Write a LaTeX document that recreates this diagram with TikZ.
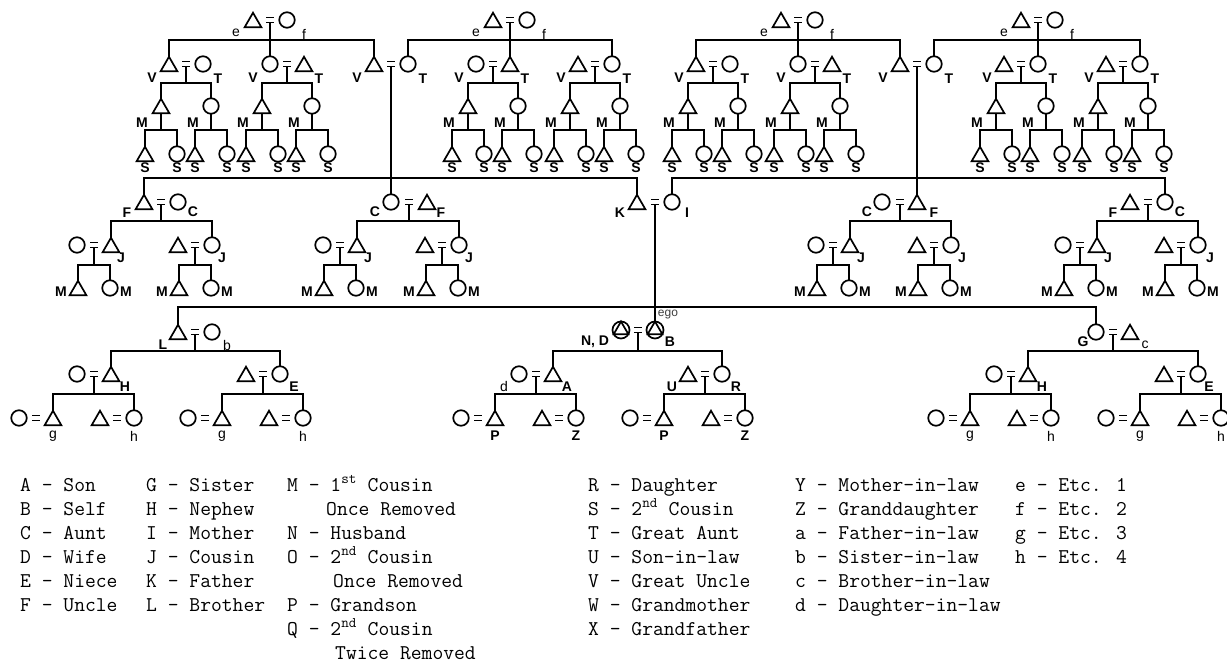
\documentclass[tikz,border=0pt]{standalone}
\usepackage{fontspec}
\newfontfamily\labf{Liberation Sans}
\usetikzlibrary{shapes.geometric}
\newcounter{lbc}
\tikzset{
 shp/.style={draw=black, line width=1.7pt, inner sep=0pt, outer sep=0pt},
 tri/.style={shp, regular polygon, regular polygon sides=3, minimum size=19.4pt},
 cir/.style={shp, circle, minimum size=15.5pt},
 ln/.style={line width=1.6pt},
 eqln/.style={line width=1.5pt},
 lab/.style={font=\labf\bfseries\fontsize{14}{14}\selectfont, inner sep=0pt},
 low/.style={font=\labf\fontsize{14}{14}\selectfont, inner sep=0pt},
 egol/.style={font=\labf\fontsize{12}{12}\selectfont, inner sep=0pt, text=black!75},
 leg/.style={font=\ttfamily\fontsize{21}{21}\selectfont, inner sep=0pt, anchor=base west},
}
\newcommand\mtri[3]{\node[tri] (#1) at ({#2},{#3+2.45}) {};}
\newcommand\mcir[3]{\node[cir] (#1) at ({#2},{#3}) {};}
\newcommand\mego[3]{\node[cir, minimum size=17pt] (#1) at ({#2},{#3}) {};\node[tri, minimum size=17pt] (#1in) at ({#2},{#3}) {};}
\newcommand\meq[3]{\draw[eqln] ({#2-4},{#3-2.6}) -- ({#2+4},{#3-2.6}) ({#2-4},{#3+2.6}) -- ({#2+4},{#3+2.6});\coordinate (#1) at ({#2},{#3+2.6});}
\newcommand\kids[3]{\foreach \kk in {#3}{\draw[ln] (#1) -- (#1 |- #2) -- (\kk.north |- #2) -- (\kk.north);}}
\newcommand\lbl[4][lab]{\stepcounter{lbc}\node[#1] (lb\arabic{lbc}) at ({#2},{#3}) {#4};}
\newcommand\lgd[3]{\stepcounter{lbc}\node[leg] (lg\arabic{lbc}) at ({#1},{#2}) {#3};}
\begin{document}
\begin{tikzpicture}[x=1pt,y=-1pt]
\path[fill=white,use as bounding box] (0,0) rectangle (1227,671);
\coordinate (LA) at (0,40);
\coordinate (LB) at (0,83);
\coordinate (LC) at (0,130);
\coordinate (LD) at (0,178);
\coordinate (LE) at (0,221);
\coordinate (LF) at (0,265);
\coordinate (LG) at (0,307);
\coordinate (LH) at (0,351);
\coordinate (LI) at (0,394);
% great-great-grandparents
\mtri{c1t}{253}{20}\meq{c1}{270}{20}\mcir{c1c}{287}{20}
\mtri{c2t}{493}{20}\meq{c2}{510}{20}\mcir{c2c}{527}{20}
\mtri{c3t}{781}{20}\meq{c3}{798}{20}\mcir{c3c}{815}{20}
\mtri{c4t}{1021}{20}\meq{c4}{1038}{20}\mcir{c4c}{1055}{20}
\lbl[low]{236}{33}{e}\lbl[low]{304}{34}{f}
\lbl[low]{476}{33}{e}\lbl[low]{544}{34}{f}
\lbl[low]{764}{33}{e}\lbl[low]{832}{34}{f}
\lbl[low]{1004}{33}{e}\lbl[low]{1072}{34}{f}
% great uncles / aunts
\mtri{a1t}{169}{64}\meq{a1}{186}{64}\mcir{a1c}{203}{64}
\mcir{a2c}{270}{64}\meq{a2}{287}{64}\mtri{a2t}{304}{64}
\mtri{a3t}{374}{64}\meq{a3}{391}{64}\mcir{a3c}{408}{64}
\mcir{b2c}{476}{64}\meq{b2}{493}{64}\mtri{b2t}{510}{64}
\mtri{b3t}{578}{64}\meq{b3}{595}{64}\mcir{b3c}{612}{64}
\mtri{d1t}{696}{64}\meq{d1}{713}{64}\mcir{d1c}{730}{64}
\mcir{d2c}{798}{64}\meq{d2}{815}{64}\mtri{d2t}{832}{64}
\mtri{d3t}{900}{64}\meq{d3}{917}{64}\mcir{d3c}{934}{64}
\mtri{e2t}{1004}{64}\meq{e2}{1021}{64}\mcir{e2c}{1038}{64}
\mtri{e3t}{1106}{64}\meq{e3}{1123}{64}\mcir{e3c}{1140}{64}
\foreach \px/\qx in {152/218,253/319,357/423,459/525,561/627,679/745,781/847,883/949,987/1053,1089/1155}{\lbl{\px}{78}{V}\lbl{\qx}{79}{T}}
\kids{c1}{LA}{a1t,a2c,a3t}
\kids{c2}{LA}{a3c,b2t,b3c}
\kids{c3}{LA}{d1t,d2c,d3t}
\kids{c4}{LA}{d3c,e2c,e3c}
% first cousins once removed, second cousins
\foreach \n/\x in {a1/186,a2/287,b2/493,b3/595,d1/713,d2/815,e2/1021,e3/1123}{
 \mtri{\n m}{\x-25}{106}\mcir{\n f}{\x+25}{106}
 \kids{\n}{LB}{\n m,\n f}
 \mtri{\n mm}{\x-41}{154}\mcir{\n mf}{\x-9}{154}
 \mtri{\n fm}{\x+9}{154}\mcir{\n ff}{\x+41}{154}
 \kids{\n m.south}{LC}{\n mm,\n mf}
 \kids{\n f.south}{LC}{\n fm,\n ff}
 \lbl{\x-44}{123}{M}\lbl{\x+7}{123}{M}
 \lbl{\x-41}{168}{S}\lbl{\x-9}{168}{S}\lbl{\x+9}{168}{S}\lbl{\x+41}{168}{S}
}
% parents generation
\mtri{Fl}{144}{202}\meq{Fe}{161}{202}\mcir{Fc}{178}{202}
\mcir{Cl}{391}{202}\meq{Ce}{409}{202}\mtri{Ct}{427}{202}
\mtri{K}{637}{202}\meq{KI}{655}{202}\mcir{I}{672}{202}
\mcir{Cr}{882}{202}\meq{Cre}{900}{202}\mtri{Crt}{917}{202}
\mtri{Frt}{1130}{202}\meq{Fre}{1148}{202}\mcir{Frc}{1165}{202}
\kids{a3}{LD}{Fl,Cl,K}
\kids{d3}{LD}{I,Crt,Frc}
\lbl{127}{213}{F}\lbl{193}{212}{C}
\lbl{375}{212}{C}\lbl{441}{213}{F}
\lbl{620}{213}{K}\lbl{687}{213}{I}
\lbl{867}{212}{C}\lbl{934}{213}{F}
\lbl{1113}{213}{F}\lbl{1180}{212}{C}
% cousins
\mcir{j1w}{77}{245}\meq{j1}{94}{245}\mtri{j1t}{111}{245}
\mtri{j2h}{178}{245}\meq{j2}{195}{245}\mcir{j2c}{212}{245}
\mcir{j3w}{323}{245}\meq{j3}{340}{245}\mtri{j3t}{357}{245}
\mtri{j4h}{425}{245}\meq{j4}{442}{245}\mcir{j4c}{459}{245}
\mcir{j5w}{816}{245}\meq{j5}{833}{245}\mtri{j5t}{850}{245}
\mtri{j6h}{917}{245}\meq{j6}{934}{245}\mcir{j6c}{951}{245}
\mcir{j7w}{1063}{245}\meq{j7}{1080}{245}\mtri{j7t}{1097}{245}
\mtri{j8h}{1164}{245}\meq{j8}{1181}{245}\mcir{j8c}{1198}{245}
\kids{Fe}{LE}{j1t,j2c}
\kids{Ce}{LE}{j3t,j4c}
\kids{Cre}{LE}{j5t,j6c}
\kids{Fre}{LE}{j7t,j8c}
\foreach \px in {121,222,368,469,861,962,1108,1210}{\lbl{\px}{258}{J}}
\foreach \n/\x in {j1/94,j2/195,j3/340,j4/442,j5/833,j6/934,j7/1080,j8/1181}{
 \mtri{\n x}{\x-16}{288}\mcir{\n y}{\x+16}{288}
 \kids{\n}{LF}{\n x,\n y}
 \lbl{\x-33}{292}{M}\lbl{\x+32}{292}{M}
}
% ego generation
\mtri{Lt}{178}{332}\meq{Le}{195}{332}\mcir{Lc}{212}{332}
\mego{egl}{621}{330}\meq{ege}{638}{330}\mego{egr}{655}{330}
\mcir{Gc}{1096}{332}\meq{Ge}{1113}{332}\mtri{Gt}{1130}{332}
\kids{KI}{LG}{Lt,egr,Gc}
\lbl{163}{345}{L}\lbl[low]{227}{345}{b}
\lbl{595}{342}{N, D}\lbl{670}{342}{B}\lbl[egol]{668}{315}{ego}
\lbl{1083}{342}{G}\lbl[low]{1145}{345}{c}
% children
\mcir{n1w}{77}{374}\meq{n1}{94}{374}\mtri{n1t}{111}{374}
\mtri{n2h}{246}{374}\meq{n2}{263}{374}\mcir{n2c}{280}{374}
\mcir{s1w}{519}{374}\meq{s1}{536}{374}\mtri{s1t}{553}{374}
\mtri{s2h}{688}{374}\meq{s2}{705}{374}\mcir{s2c}{722}{374}
\mcir{n3w}{994}{374}\meq{n3}{1011}{374}\mtri{n3t}{1028}{374}
\mtri{n4h}{1164}{374}\meq{n4}{1181}{374}\mcir{n4c}{1198}{374}
\kids{Le}{LH}{n1t,n2c}
\kids{ege}{LH}{s1t,s2c}
\kids{Ge}{LH}{n3t,n4c}
\lbl{125}{387}{H}\lbl{294}{387}{E}
\lbl[low]{504}{386}{d}\lbl{567}{387}{A}\lbl{672}{387}{U}\lbl{736}{387}{R}
\lbl{1042}{387}{H}\lbl{1209}{387}{E}
% grandchildren
\foreach \n/\x/\la/\lz/\st in {n1/94/g/h/low,n2/263/g/h/low,s1/536/P/Z/lab,s2/705/P/Z/lab,n3/1011/g/h/low,n4/1181/g/h/low}{
 \mcir{\n a}{\x-75}{418}\meq{\n ae}{\x-58}{418}\mtri{\n at}{\x-41}{418}
 \mtri{\n b}{\x+6}{418}\meq{\n be}{\x+23}{418}\mcir{\n bc}{\x+40}{418}
 \kids{\n}{LI}{\n at,\n bc}
 \lbl[\st]{\x-41}{436}{\la}\lbl[\st]{\x+40}{436}{\lz}
}
% legend
\lgd{20}{491}{A - Son}
\lgd{20}{515}{B - Self}
\lgd{20}{539}{C - Aunt}
\lgd{20}{563}{D - Wife}
\lgd{20}{587}{E - Niece}
\lgd{20}{611}{F - Uncle}
\lgd{146}{491}{G - Sister}
\lgd{146}{515}{H - Nephew}
\lgd{146}{539}{I - Mother}
\lgd{146}{563}{J - Cousin}
\lgd{146}{587}{K - Father}
\lgd{146}{611}{L - Brother}
\lgd{287}{491}{M - 1\textsuperscript{st} Cousin}
\lgd{326}{515}{Once Removed}
\lgd{287}{539}{N - Husband}
\lgd{287}{563}{O - 2\textsuperscript{nd} Cousin}
\lgd{333}{587}{Once Removed}
\lgd{287}{611}{P - Grandson}
\lgd{287}{635}{Q - 2\textsuperscript{nd} Cousin}
\lgd{335}{659}{Twice Removed}
\lgd{588}{491}{R - Daughter}
\lgd{588}{515}{S - 2\textsuperscript{nd} Cousin}
\lgd{588}{539}{T - Great Aunt}
\lgd{588}{563}{U - Son-in-law}
\lgd{588}{587}{V - Great Uncle}
\lgd{588}{611}{W - Grandmother}
\lgd{588}{635}{X - Grandfather}
\lgd{795}{491}{Y - Mother-in-law}
\lgd{795}{515}{Z - Granddaughter}
\lgd{795}{539}{a - Father-in-law}
\lgd{795}{563}{b - Sister-in-law}
\lgd{795}{587}{c - Brother-in-law}
\lgd{795}{611}{d - Daughter-in-law}
\lgd{1015}{491}{e - Etc. 1}
\lgd{1015}{515}{f - Etc. 2}
\lgd{1015}{539}{g - Etc. 3}
\lgd{1015}{563}{h - Etc. 4}
\end{tikzpicture}
\end{document}
